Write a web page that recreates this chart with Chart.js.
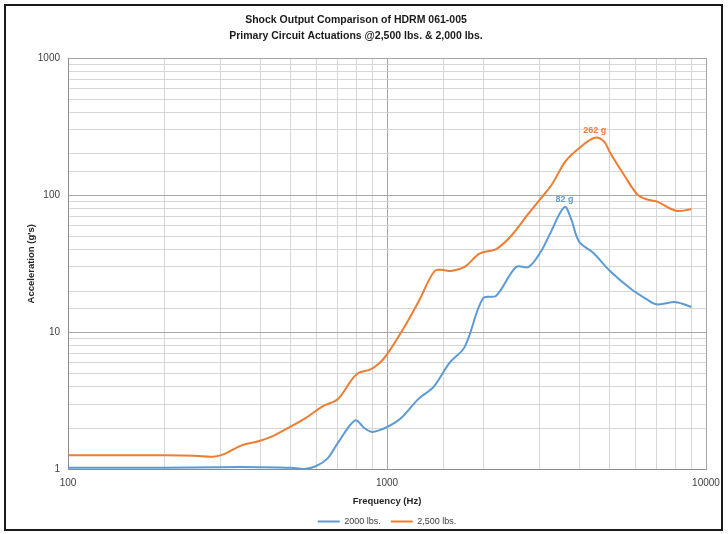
<!DOCTYPE html>
<html>
<head>
<meta charset="utf-8">
<script src="https://cdn.jsdelivr.net/npm/chart.js@4.4.0/dist/chart.umd.min.js"></script>
<style>
    html, body { margin: 0; padding: 0; background: #fff; }
    #wrap { position: relative; width: 728px; height: 534px; }
    #frame { position: absolute; left: 4px; top: 4px; width: 715px; height: 523px; border: 2px solid #1a1a1a; pointer-events: none; }
</style>
</head>
<body>
<div id="wrap">
    <canvas id="shockChart" width="728" height="534"></canvas>
    <div id="frame"></div>
</div>
<script>
// 2,500 lbs. actuation (orange)
const freq2500 = [100, 150, 200, 250, 285, 310, 350, 400, 440, 500, 560, 630, 700, 780, 820, 885, 950, 1000, 1130, 1260, 1410, 1500, 1580, 1750, 1950, 2200, 2440, 2760, 3040, 3290, 3630, 4000, 4480, 4790, 5000, 5560, 6100, 6540, 7000, 8050, 9000];
const g2500 = [1.27, 1.27, 1.27, 1.26, 1.24, 1.3, 1.5, 1.62, 1.76, 2.06, 2.4, 2.9, 3.25, 4.6, 5.1, 5.35, 6.0, 6.9, 10.8, 17, 28, 28.5, 28, 30, 37.5, 40.5, 50, 72, 95, 120, 177, 220, 262, 246, 205, 138, 101, 93, 90, 77, 79];

// 2000 lbs. actuation (blue)
const freq2000 = [100, 200, 300, 400, 500, 550, 600, 650, 700, 795, 850, 900, 1000, 1100, 1260, 1400, 1570, 1750, 2000, 2200, 2540, 2780, 3040, 3240, 3600, 3770, 4000, 4430, 5000, 5850, 6450, 7000, 8050, 9000];
const g2000 = [1.03, 1.03, 1.04, 1.04, 1.03, 1.01, 1.06, 1.2, 1.55, 2.28, 2.0, 1.88, 2.04, 2.34, 3.3, 4.0, 6.0, 7.8, 17.7, 18.5, 30, 30, 39, 52, 82, 68, 46, 38, 28, 20.5, 17.7, 16.0, 16.6, 15.3];

// peak callouts
const peakFreq = [3600, 4480];
const peakG = [82, 262];
const peakText = ['82 g', '262 g'];

const xTicks = [100, 1000, 10000];
const yTicks = [1, 10, 100, 1000];

const blue = '#5b9bd5';
const orange = '#ed7d31';
const font = '"Liberation Sans", Arial, sans-serif';

function toPoints(xs, ys) {
    return xs.map((f, i) => ({ x: f, y: ys[i] }));
}

function gridColor(majors) {
    return c => (c.tick && majors.includes(c.tick.value) ? '#a6a6a6' : '#d6d6d6');
}

const peakLabels = {
    id: 'peakLabels',
    afterDatasetsDraw(chart) {
        const { ctx, scales: { x, y } } = chart;
        const colors = [blue, orange];
        ctx.save();
        ctx.font = 'bold 9px ' + font;
        ctx.textAlign = 'center';
        ctx.textBaseline = 'bottom';
        peakFreq.forEach((f, i) => {
            ctx.fillStyle = colors[i];
            ctx.fillText(peakText[i], x.getPixelForValue(f), y.getPixelForValue(peakG[i]) - 3);
        });
        ctx.restore();
    }
};

const ctx = document.getElementById('shockChart').getContext('2d');
new Chart(ctx, {
    type: 'line',
    data: {
        datasets: [{
            label: '2000 lbs.',
            data: toPoints(freq2000, g2000),
            borderColor: blue,
            backgroundColor: blue,
            borderWidth: 2,
            pointRadius: 0,
            tension: 0.35
        }, {
            label: '2,500 lbs.',
            data: toPoints(freq2500, g2500),
            borderColor: orange,
            backgroundColor: orange,
            borderWidth: 2,
            pointRadius: 0,
            tension: 0.35
        }]
    },
    options: {
        responsive: false,
        animation: false,
        devicePixelRatio: 1,
        layout: { padding: { left: 6, right: 22, top: 6, bottom: -2 } },
        plugins: {
            title: {
                display: true,
                text: ['Shock Output Comparison of HDRM 061-005', 'Primary Circuit Actuations @2,500 lbs. & 2,000 lbs.'],
                color: '#1a1a1a',
                font: { family: font, size: 10.5, weight: 'bold', lineHeight: '16px' },
                padding: { top: 6, bottom: 14 }
            },
            legend: {
                position: 'bottom',
                fullSize: false,
                labels: {
                    usePointStyle: true,
                    pointStyle: 'line',
                    pointStyleWidth: 22,
                    padding: 10,
                    color: '#404040',
                    font: { family: font, size: 9 }
                }
            },
            tooltip: { enabled: false }
        },
        scales: {
            x: {
                type: 'logarithmic',
                min: 100,
                max: 10000,
                afterFit(scale) { scale.height = 37.5; },
                border: { color: '#8c8c8c' },
                grid: { drawTicks: false, color: gridColor(xTicks) },
                ticks: {
                    autoSkip: false,
                    maxRotation: 0,
                    padding: 8,
                    color: '#404040',
                    font: { family: font, size: 10 },
                    callback: v => (xTicks.includes(v) ? String(v) : '')
                },
                title: {
                    display: true,
                    text: 'Frequency (Hz)',
                    color: '#262626',
                    font: { family: font, size: 9.5, weight: 'bold' },
                    padding: { top: 0, bottom: 0 }
                }
            },
            y: {
                type: 'logarithmic',
                min: 1,
                max: 1000,
                afterFit(scale) { scale.width = 62; },
                border: { color: '#8c8c8c' },
                grid: { drawTicks: false, color: gridColor(yTicks) },
                ticks: {
                    autoSkip: false,
                    padding: 8,
                    color: '#404040',
                    font: { family: font, size: 10 },
                    callback: v => (yTicks.includes(v) ? String(v) : '')
                },
                title: {
                    display: true,
                    text: "Acceleration (g's)",
                    color: '#262626',
                    font: { family: font, size: 9.5, weight: 'bold' },
                    padding: { top: 20, bottom: 0 }
                }
            }
        }
    },
    plugins: [peakLabels]
});
</script>
</body>
</html>
